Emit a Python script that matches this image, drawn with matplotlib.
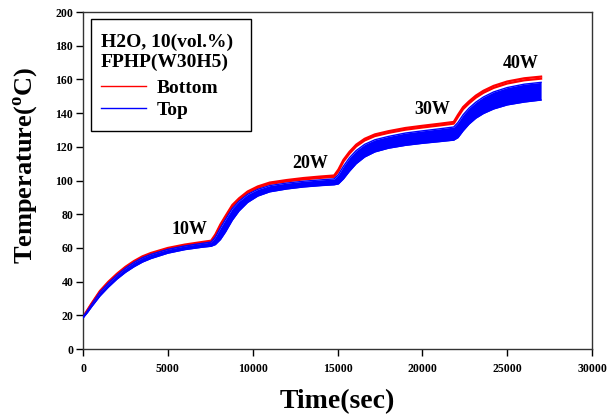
import matplotlib
matplotlib.use("Agg")
import matplotlib.pyplot as plt
from matplotlib.lines import Line2D
from matplotlib.patches import Rectangle
from matplotlib.font_manager import FontProperties

# ---- data ----
time_s = [0, 250, 500, 1000, 1500, 2000, 2500, 3000, 3500, 4000, 5000, 6000, 7000, 7550,
          7800, 8100, 8400, 8800, 9200, 9700, 10300, 11000, 12000, 13000, 14000, 14800,
          15050, 15350, 15700, 16100, 16600, 17200, 18000, 19000, 20000, 21000, 21850,
          22100, 22400, 22750, 23150, 23600, 24200, 25000, 26000, 27000]

bottom_1 = [19, 23, 27, 34.5, 40, 44.7, 48.8, 52.2, 55, 57, 60, 62, 63.5, 64.3,
            68, 74, 79, 85.5, 89.5, 93.5, 96.5, 98.8, 100.3, 101.5, 102.4, 103,
            106.5, 112.3, 117, 121.3, 124.8, 127.4, 129.3, 131.2, 132.5, 133.7, 134.8,
            139, 143.6, 147, 150.4, 153.3, 156.2, 158.8, 160.7, 161.7]
bottom_2 = [18.8, 22.7, 26.6, 34, 39.4, 44.1, 48.2, 51.6, 54.4, 56.4, 59.4, 61.4, 62.9, 63.7,
            67.2, 73.1, 78.2, 84.7, 88.7, 92.7, 95.7, 98, 99.5, 100.7, 101.6, 102.2,
            105.5, 111.3, 116, 120.3, 123.8, 126.4, 128.3, 130.2, 131.5, 132.7, 133.8,
            137.8, 142.4, 145.8, 149.2, 152.1, 155, 157.6, 159.5, 160.5]

top_high = [19, 22.6, 26.4, 33.8, 39.2, 43.9, 48, 51.4, 54.2, 56.2, 59.2, 61.2, 62.7, 63.5,
            66.5, 72, 77, 83.5, 87.8, 91.8, 94.8, 97, 98.5, 99.6, 100.4, 101,
            103.5, 108.5, 113.5, 117.8, 121.5, 124.2, 126.2, 128.2, 129.5, 130.7, 131.8,
            134.5, 139, 143, 146.5, 149.6, 152.6, 155.2, 157.2, 158.3]
top_low = [18.5, 21.5, 25, 31.5, 36.8, 41.5, 45.5, 48.8, 51.6, 53.7, 56.9, 59, 60.4, 61,
           62, 65, 69.5, 76.5, 82, 87, 90.8, 93.3, 95, 96.2, 97, 97.5,
           98, 101, 105.5, 110, 114, 117, 119.2, 120.9, 122.1, 123.1, 124,
           125.5, 129.5, 133.5, 137, 139.8, 142.5, 144.9, 146.6, 147.8]

power_labels = ["10W", "20W", "30W", "40W"]
label_t = [6300, 13380, 20600, 25790]
label_T = [71, 110.4, 142.4, 169.3]

legend_title = ["H2O, 10(vol.%)", "FPHP(W30H5)"]
legend_labels = ["Bottom", "Top"]

x_ticks = [0, 5000, 10000, 15000, 20000, 25000, 30000]
y_ticks = [0, 20, 40, 60, 80, 100, 120, 140, 160, 180, 200]

# ---- plotting ----
serif = "Liberation Serif"
plt.rcParams["font.family"] = [serif, "DejaVu Serif"]
plt.rcParams["font.weight"] = "bold"
plt.rcParams["mathtext.fontset"] = "custom"
plt.rcParams["mathtext.rm"] = serif + ":bold"
plt.rcParams["mathtext.bf"] = serif + ":bold"

fig = plt.figure(figsize=(6.09, 4.17), dpi=100)
ax = fig.add_axes([0.1363, 0.163, 0.8358, 0.808])

red = "#ff0000"
blue = "#0000ff"

ax.plot(time_s, bottom_1, color=red, lw=1.6, zorder=2)
ax.plot(time_s, bottom_2, color=red, lw=1.6, zorder=2)
ax.fill_between(time_s, top_low, top_high, color=blue, lw=0, zorder=3)
ax.plot(time_s, top_high, color=blue, lw=1.0, zorder=3)
ax.plot(time_s, top_low, color=blue, lw=1.0, zorder=3)

for lab, tx, ty in zip(power_labels, label_t, label_T):
    ax.text(tx, ty, lab, ha="center", va="center", fontsize=13,
            fontweight="bold", family=serif)

ax.set_xlim(0, 30000)
ax.set_ylim(0, 200)
ax.set_xticks(x_ticks)
ax.set_yticks(y_ticks)
ax.set_xticklabels([str(v) for v in x_ticks])
ax.set_yticklabels([str(v) for v in y_ticks])
ax.tick_params(direction="out", length=5, width=1, labelsize=8.5, pad=2)
ax.tick_params(axis="x", pad=5)
for lab in ax.get_xticklabels() + ax.get_yticklabels():
    lab.set_fontweight("bold")
for sp in ax.spines.values():
    sp.set_linewidth(1.0)
    sp.set_color("#333333")

ax.set_xlabel("Time(sec)", fontsize=20, fontweight="bold")
ax.xaxis.set_label_coords(0.5, -0.12)
ax.set_ylabel(r"Temperature($^{\mathrm{o}}$C)", fontsize=19, fontweight="bold")
ax.yaxis.set_label_coords(-0.084, 0.546)

# legend box (frame drawn separately for exact size)
ax.add_patch(Rectangle((0.0157, 0.648), 0.3138, 0.331, transform=ax.transAxes,
                       facecolor="white", edgecolor="black", lw=1.0, zorder=5))
for line, yy in zip(legend_title, [0.9095, 0.850]):
    ax.text(0.0348, yy, line, transform=ax.transAxes, ha="left", va="center",
            fontsize=14, fontweight="bold", family=serif, zorder=6)

fp = FontProperties(family=serif, weight="bold", size=14)
handles = [Line2D([], [], color=red, lw=1.0), Line2D([], [], color=blue, lw=1.0)]
leg = ax.legend(handles, legend_labels, loc="center left",
                bbox_to_anchor=(0.0348, 0.742), borderaxespad=0, borderpad=0,
                prop=fp, frameon=False,
                handlelength=2.32, handletextpad=0.58, labelspacing=0.25)
leg.set_zorder(7)

fig.savefig("out.png", dpi=100)
